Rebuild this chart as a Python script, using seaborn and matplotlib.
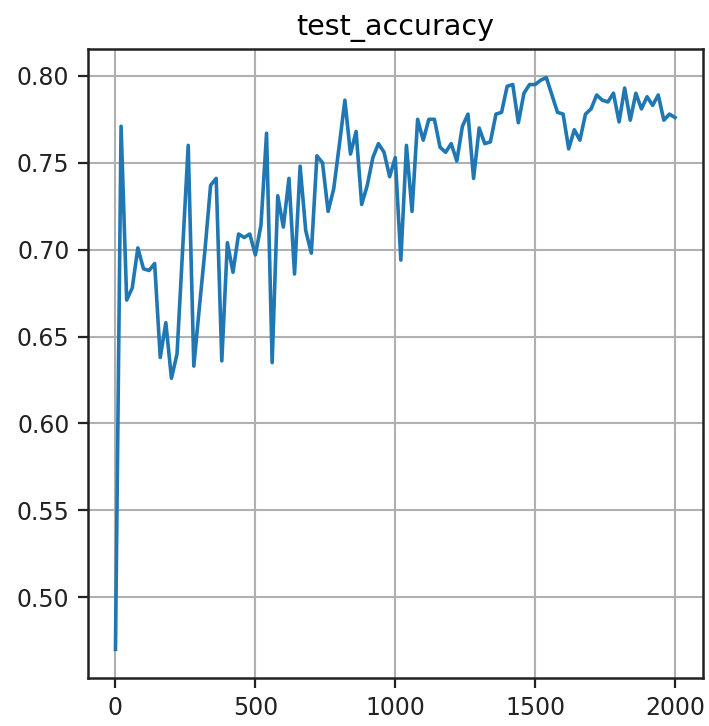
import matplotlib
matplotlib.use("Agg")
import matplotlib.pyplot as plt
import seaborn as sns
import pandas as pd

steps = list(range(0, 2001, 20))
accuracy = [
    0.470, 0.771, 0.671, 0.678, 0.701, 0.689, 0.688, 0.692, 0.638, 0.658,   # 0-180
    0.626, 0.640, 0.700, 0.760, 0.633, 0.667, 0.700, 0.737, 0.741, 0.636,   # 200-380
    0.704, 0.687, 0.709, 0.707, 0.709, 0.697, 0.714, 0.767, 0.635, 0.731,   # 400-580
    0.713, 0.741, 0.686, 0.748, 0.711, 0.698, 0.754, 0.750, 0.722, 0.735,   # 600-780
    0.760, 0.786, 0.755, 0.768, 0.726, 0.737, 0.753, 0.761, 0.756, 0.742,   # 800-980
    0.753, 0.694, 0.760, 0.722, 0.775, 0.763, 0.775, 0.775, 0.759, 0.756,   # 1000-1180
    0.761, 0.751, 0.771, 0.778, 0.741, 0.770, 0.761, 0.762, 0.778, 0.779,   # 1200-1380
    0.794, 0.795, 0.773, 0.790, 0.795, 0.795, 0.7975, 0.799, 0.789, 0.779,  # 1400-1580
    0.778, 0.758, 0.769, 0.763, 0.778, 0.781, 0.789, 0.786, 0.785, 0.790,   # 1600-1780
    0.7735, 0.793, 0.7745, 0.790, 0.781, 0.788, 0.783, 0.789, 0.7745, 0.778,  # 1800-1980
    0.776,                                                                   # 2000
]
title = "test_accuracy"

df = pd.DataFrame({"step": steps, "acc": accuracy})

plt.rcParams["font.family"] = ["DejaVu Sans"]
fig = plt.figure(figsize=(7.09, 7.26), dpi=100)
ax = fig.add_axes([87.5 / 709, 1 - 678 / 726, (703 - 87.5) / 709, (678 - 49) / 726])

sns.lineplot(data=df, x="step", y="acc", ax=ax, color="#1f77b4", linewidth=2.6)

ax.set_title(title, fontsize=20.5, pad=10)
ax.set_xlabel("")
ax.set_ylabel("")
ax.set_xticks([0, 500, 1000, 1500, 2000])
ax.set_yticks([0.50, 0.55, 0.60, 0.65, 0.70, 0.75, 0.80])
ax.set_yticklabels([f"{v:.2f}" for v in [0.50, 0.55, 0.60, 0.65, 0.70, 0.75, 0.80]])
ax.tick_params(axis="both", labelsize=17, length=7, width=1.6, pad=6, colors="#222222")
ax.grid(True, color="#b0b0b0", linewidth=1.5)
for s in ax.spines.values():
    s.set_linewidth(1.8)
    s.set_color("#222222")

fig.savefig("out.png", dpi=100)
